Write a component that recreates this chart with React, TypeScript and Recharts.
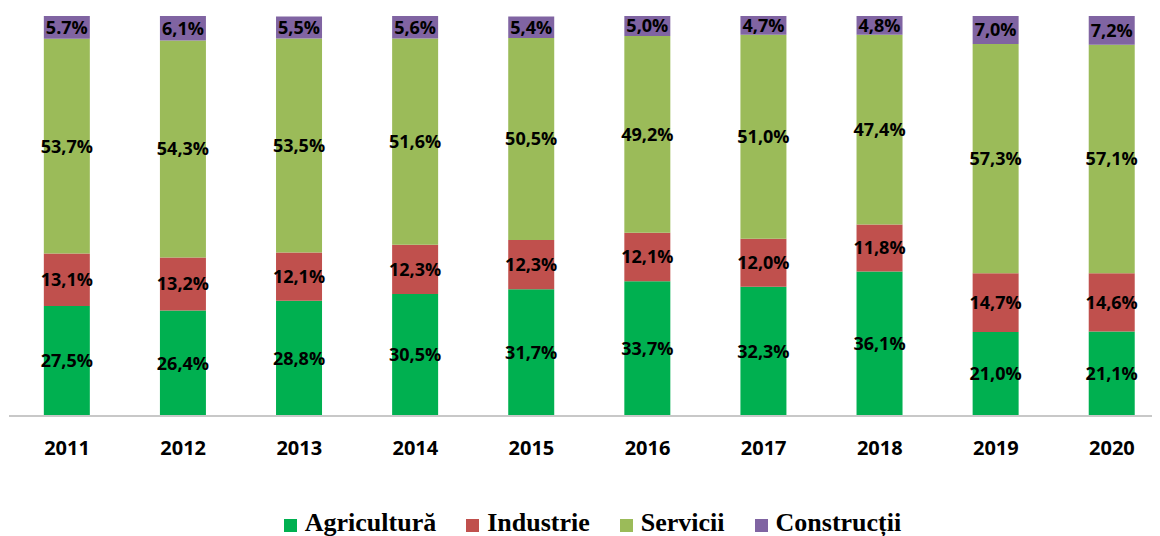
import React from 'react';
import { BarChart, Bar, XAxis, YAxis, Legend, LabelList } from 'recharts';

const years = ['2011', '2012', '2013', '2014', '2015', '2016', '2017', '2018', '2019', '2020'];
const agricultura = [27.5, 26.4, 28.8, 30.5, 31.7, 33.7, 32.3, 36.1, 21.0, 21.1];
const industrie = [13.1, 13.2, 12.1, 12.3, 12.3, 12.1, 12.0, 11.8, 14.7, 14.6];
const servicii = [53.7, 54.3, 53.5, 51.6, 50.5, 49.2, 51.0, 47.4, 57.3, 57.1];
const constructii = [5.7, 6.1, 5.5, 5.6, 5.4, 5.0, 4.7, 4.8, 7.0, 7.2];
// the first label in the source uses a dot, the rest a comma
const constructiiLabels = ['5.7%', '6,1%', '5,5%', '5,6%', '5,4%', '5,0%', '4,7%', '4,8%', '7,0%', '7,2%'];

const series = [
  { key: 'agricultura', name: 'Agricultură', color: '#00b050' },
  { key: 'industrie', name: 'Industrie', color: '#c0504d' },
  { key: 'servicii', name: 'Servicii', color: '#9bbb59' },
  { key: 'constructii', name: 'Construcții', color: '#8064a2' },
];

const data = years.map((year, i) => ({
  year,
  agricultura: agricultura[i],
  industrie: industrie[i],
  servicii: servicii[i],
  constructii: constructii[i],
  constructiiLabel: constructiiLabels[i],
}));

const pct = (v: any) => `${Number(v).toFixed(1).replace('.', ',')}%`;

const labelStyle = {
  fill: '#000',
  fontSize: 18,
  fontWeight: 700,
  fontFamily: '"Open Sans", sans-serif',
};

function LegendContent() {
  return (
    <div style={{ display: 'flex', justifyContent: 'center', alignItems: 'center', gap: 30, height: 30, marginLeft: 6, marginTop: 2 }}>
      {series.map((s) => (
        <div key={s.key} style={{ display: 'flex', alignItems: 'center' }}>
          <span style={{ width: 13, height: 13, background: s.color, display: 'inline-block', marginRight: 8, marginTop: 4 }} />
          <span
            style={{
              fontFamily: '"Liberation Serif", "Times New Roman", serif',
              fontWeight: 700,
              fontSize: 26,
              lineHeight: '30px',
              color: '#000',
            }}
          >
            {s.name}
          </span>
        </div>
      ))}
    </div>
  );
}

export default function App() {
  return (
    <div style={{ width: 1152, overflow: 'hidden' }}>
      <BarChart
        width={1162}
        height={528}
        data={data}
        margin={{ top: 8, right: 0, bottom: 0, left: 1 }}
        barCategoryGap="30%"
      >
        <XAxis
          dataKey="year"
          height={90}
          tickLine={false}
          axisLine={{ stroke: '#c8c8c8', strokeWidth: 2 }}
          tickMargin={19}
          tick={{ fill: '#000', fontSize: 20, fontWeight: 700, fontFamily: '"Open Sans", sans-serif' }}
        />
        <YAxis hide domain={[0, 100]} allowDataOverflow />
        <Legend verticalAlign="bottom" height={30} content={<LegendContent />} />
        {series.map((s) => (
          <Bar
            key={s.key}
            dataKey={s.key}
            name={s.name}
            stackId="a"
            fill={s.color}
            isAnimationActive={false}
          >
            {s.key === 'constructii' ? (
              <LabelList dataKey="constructiiLabel" position="center" style={labelStyle} />
            ) : (
              <LabelList dataKey={s.key} position="center" formatter={pct} style={labelStyle} />
            )}
          </Bar>
        ))}
      </BarChart>
    </div>
  );
}
